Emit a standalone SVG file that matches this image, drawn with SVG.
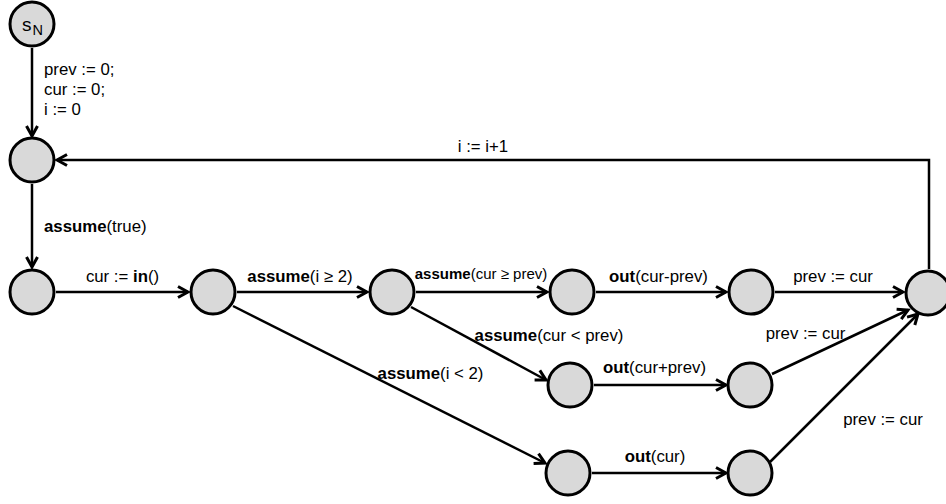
<svg xmlns="http://www.w3.org/2000/svg" width="946" height="504" viewBox="0 0 946 504">
  <style>
    .node { fill: #d9d9d9; stroke: #000; stroke-width: 3; }
    .edge { fill: none; stroke: #000; stroke-width: 2.5; marker-end: url(#arrow); }
    text { font-family: "Liberation Sans", Arial, sans-serif; font-size: 16.8px; fill: #000; }
    .c { text-anchor: middle; }
    .sm { font-size: 15px; }
    .b { font-weight: bold; }
  </style>
  <defs>
    <marker id="arrow" markerUnits="userSpaceOnUse" markerWidth="16" markerHeight="16" viewBox="0 0 16 16" refX="13" refY="8" orient="auto">
      <path d="M3,2.5 L13,8 L3,13.5" fill="none" stroke="#000" stroke-width="3" stroke-linejoin="miter"/>
    </marker>
  </defs>

  <!-- connectors -->
  <g id="edges">
    <line class="edge" x1="32" y1="48" x2="32" y2="136"/>
    <line class="edge" x1="32" y1="184" x2="32" y2="267"/>
    <line class="edge" x1="56" y1="292" x2="188" y2="292"/>
    <line class="edge" x1="237" y1="292" x2="367" y2="292"/>
    <line class="edge" x1="416" y1="292" x2="547" y2="292"/>
    <line class="edge" x1="596" y1="292" x2="726" y2="292"/>
    <line class="edge" x1="775" y1="292" x2="903" y2="292"/>
    <line class="edge" x1="411" y1="307" x2="546" y2="380"/>
    <line class="edge" x1="233" y1="306" x2="545" y2="463"/>
    <line class="edge" x1="594" y1="385" x2="726" y2="385"/>
    <line class="edge" x1="592" y1="473" x2="726" y2="473"/>
    <line class="edge" x1="772" y1="374" x2="908" y2="310"/>
    <line class="edge" x1="770" y1="462" x2="918" y2="314"/>
    <polyline class="edge" points="929,269 929,160 57,160"/>
  </g>

  <!-- edge labels -->
  <g id="labels">
    <text x="44" y="75">prev := 0;</text>
    <text x="44" y="95">cur := 0;</text>
    <text x="44" y="115">i := 0</text>
    <text x="483" y="152" class="c">i := i+1</text>
    <text x="44" y="232"><tspan class="b">assume</tspan>(true)</text>
    <text x="122.5" y="282" class="c">cur := <tspan class="b">in</tspan>()</text>
    <text x="300" y="282" class="c"><tspan class="b">assume</tspan>(i ≥ 2)</text>
    <text x="481" y="279" class="c sm"><tspan class="b">assume</tspan>(cur ≥ prev)</text>
    <text x="658.5" y="282" class="c"><tspan class="b">out</tspan>(cur-prev)</text>
    <text x="833" y="282" class="c">prev := cur</text>
    <text x="549" y="341" class="c"><tspan class="b">assume</tspan>(cur &lt; prev)</text>
    <text x="805.5" y="339" class="c">prev := cur</text>
    <text x="654.5" y="373" class="c"><tspan class="b">out</tspan>(cur+prev)</text>
    <text x="430.5" y="379" class="c"><tspan class="b">assume</tspan>(i &lt; 2)</text>
    <text x="883" y="425" class="c">prev := cur</text>
    <text x="655" y="462" class="c"><tspan class="b">out</tspan>(cur)</text>
  </g>

  <!-- nodes -->
  <g id="sN">
    <circle class="node" cx="32" cy="24" r="22"/>
    <text x="22" y="31" style="font-size:19px">s</text>
    <text x="32.5" y="35" style="font-size:14.5px">N</text>
  </g>
  <g id="n1"><circle class="node" cx="32" cy="160" r="22"/></g>
  <g id="n2"><circle class="node" cx="32" cy="292" r="22"/></g>
  <g id="n3"><circle class="node" cx="213" cy="292" r="22"/></g>
  <g id="n4"><circle class="node" cx="392" cy="292" r="22"/></g>
  <g id="n5"><circle class="node" cx="572" cy="292" r="22"/></g>
  <g id="n6"><circle class="node" cx="751" cy="292" r="22"/></g>
  <g id="n7"><circle class="node" cx="928" cy="293" r="22"/></g>
  <g id="n8"><circle class="node" cx="570" cy="385" r="22"/></g>
  <g id="n9"><circle class="node" cx="750" cy="385" r="22"/></g>
  <g id="n10"><circle class="node" cx="568" cy="473" r="22"/></g>
  <g id="n11"><circle class="node" cx="750" cy="473" r="22"/></g>
</svg>
